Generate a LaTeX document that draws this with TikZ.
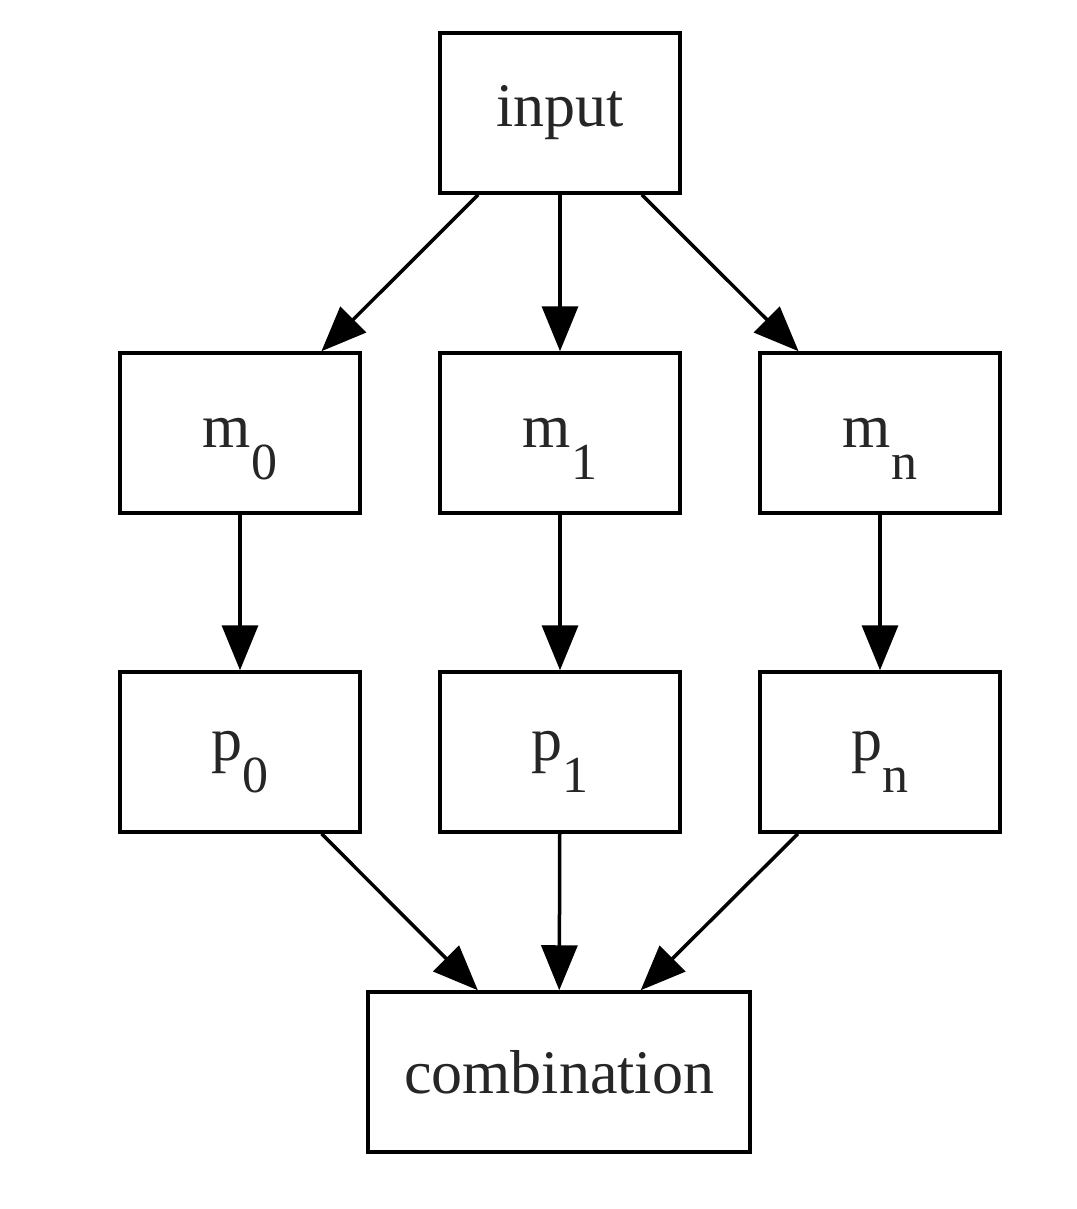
\documentclass[tikz,border=0pt]{standalone}
\usepackage{fontspec}
\setmainfont{Liberation Serif}
\usetikzlibrary{arrows.meta}
\newcommand{\sbs}[2]{#1\raisebox{-32pt}[0pt][0pt]{\fontsize{52}{52}\selectfont #2}}
\begin{document}
\begin{tikzpicture}[x=1pt,y=-1pt,
  box/.style={draw=black,line width=3.5pt,rectangle,minimum width=240pt,minimum height=160pt,inner sep=0pt,
    font=\fontsize{62}{62}\selectfont,text=black!85},
  wide/.style={box,minimum width=382pt},
  conn/.style={line width=3.5pt,-{Triangle[length=45pt,width=36pt]}}]
\useasboundingbox (0,0) rectangle (1076,1209);
\node[box] (input) at (560,113) {input};
\node[box] (m0) at (240,433) {\sbs{m}{0}};
\node[box] (m1) at (560,433) {\sbs{m}{1}};
\node[box] (mn) at (880,433) {\sbs{m}{n}};
\node[box] (p0) at (240,752) {\sbs{p}{0}};
\node[box] (p1) at (560,752) {\sbs{p}{1}};
\node[box] (pn) at (880,752) {\sbs{p}{n}};
\node[wide] (comb) at (559,1072) {combination};
\draw[conn] (input) -- (m0);
\draw[conn] (input) -- (m1);
\draw[conn] (input) -- (mn);
\draw[conn] (m0) -- (p0);
\draw[conn] (m1) -- (p1);
\draw[conn] (mn) -- (pn);
\draw[conn] (p0) -- (comb);
\draw[conn] (p1) -- (comb);
\draw[conn] (pn) -- (comb);
\end{tikzpicture}
\end{document}
